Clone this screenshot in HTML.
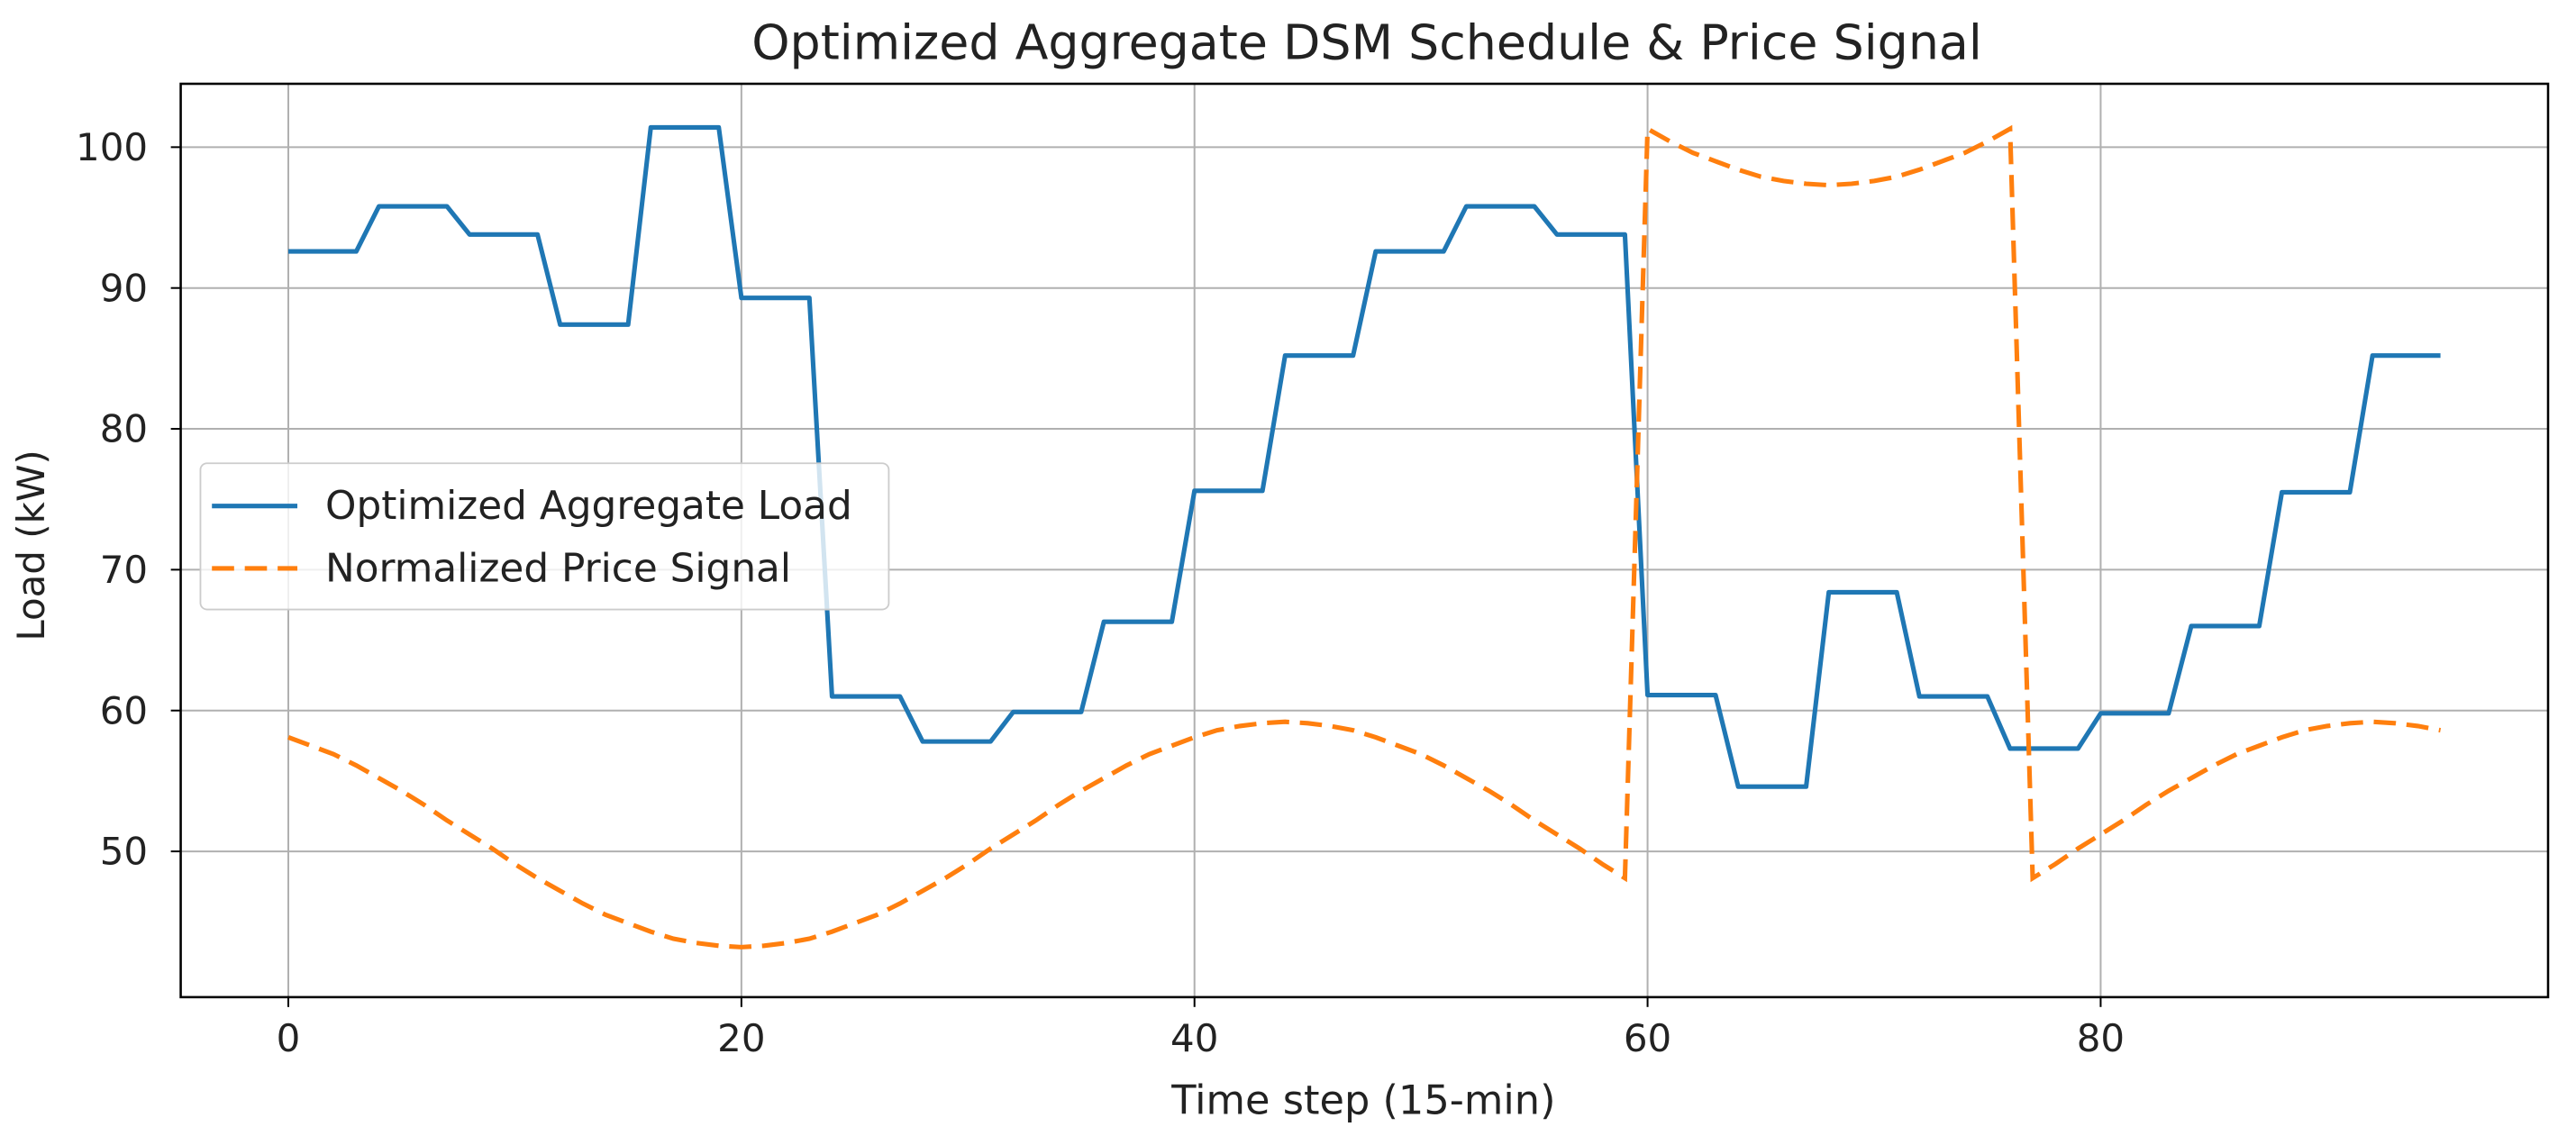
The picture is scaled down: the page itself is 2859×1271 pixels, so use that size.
<!DOCTYPE html>
<html><head><meta charset="utf-8"><style>
html,body{margin:0;padding:0;background:#fff;}
svg{display:block;}
text{font-family:"DejaVu Sans","Liberation Sans",sans-serif;fill:#222;}
</style></head>
<body>
<svg id="chart" width="2859" height="1271" viewBox="0 0 1568 697" preserveAspectRatio="none" xmlns="http://www.w3.org/2000/svg">
<rect x="0" y="0" width="1568" height="697" fill="#fff"/>
<text x="832" y="36" font-size="29.5" text-anchor="middle">Optimized Aggregate DSM Schedule &amp; Price Signal</text>
<g id="grid"></g>
<g id="series"></g>
<rect x="110" y="51" width="1441" height="556" fill="none" stroke="#000" stroke-width="1.4"/>
<g id="ticks"></g>
<text x="830" y="678" font-size="24.5" text-anchor="middle">Time step (15-min)</text>
<text transform="translate(27,332) rotate(-90)" font-size="23" text-anchor="middle">Load (kW)</text>
<g>
<rect x="122" y="282" width="419" height="89" rx="4" fill="#fff" fill-opacity="0.8" stroke="#ccc"/>
<line x1="129" y1="308" x2="181" y2="308" stroke="#1f77b4" stroke-width="2.8"/>
<text x="198" y="316" font-size="24">Optimized Aggregate Load</text>
<line x1="129" y1="346" x2="181" y2="346" stroke="#ff7f0e" stroke-width="2.8" stroke-dasharray="13.5,6.5"/>
<text x="198" y="354" font-size="24">Normalized Price Signal</text>
</g>
</svg>
<script>
const loadLevels = [92.6,95.8,93.8,87.4,101.4,89.3,61.0,57.8,59.9,66.3,75.6,85.2,92.6,95.8,93.8,61.1,54.6,68.4,61.0,57.3,59.8,66.0,75.5,85.2];
const loadValues = [];
loadLevels.forEach(v => { loadValues.push(v, v, v, v); });
const priceValues = [58.1,57.5,56.9,56.1,55.2,54.3,53.3,52.2,51.2,50.2,49.1,48.1,47.2,46.3,45.5,44.9,44.3,43.8,43.5,43.3,43.2,
43.3,43.5,43.8,44.3,44.9,45.5,46.3,47.2,48.1,49.1,50.2,51.2,52.2,53.3,54.3,55.2,56.1,56.9,57.5,58.1,58.6,58.9,59.1,59.2,
59.1,58.9,58.6,58.1,57.5,56.9,56.1,55.2,54.3,53.3,52.2,51.2,50.2,49.1,48.1,
101.3,100.4,99.6,99.0,98.4,97.9,97.6,97.4,97.3,97.4,97.6,97.9,98.4,99.0,99.6,100.4,101.3,
48.1,49.1,50.2,51.2,52.2,53.3,54.3,55.2,56.1,56.9,57.5,58.1,58.6,58.9,59.1,59.2,59.1,58.9,58.6];
const xTicks = [0,20,40,60,80];
const yTicks = [50,60,70,80,90,100];

const NS = "http://www.w3.org/2000/svg";
const X0 = 110, X1 = 1551, Y0 = 51, Y1 = 607;
const xMin = -4.75, xMax = 99.75, yMin = 39.65, yMax = 104.5;
const xs = v => X0 + (v - xMin) / (xMax - xMin) * (X1 - X0);
const ys = v => Y1 - (v - yMin) / (yMax - yMin) * (Y1 - Y0);
function mk(tag, attrs, parent) {
  const el = document.createElementNS(NS, tag);
  for (const k in attrs) el.setAttribute(k, attrs[k]);
  parent.appendChild(el);
  return el;
}
const grid = document.getElementById('grid');
const ticks = document.getElementById('ticks');
const series = document.getElementById('series');
xTicks.forEach(t => {
  const g = mk('line', {x1: xs(t), x2: xs(t), y1: Y0, y2: Y1, stroke: '#b0b0b0', 'stroke-width': 1.1}, grid);
  
  
  const tk = mk('line', {x1: xs(t), x2: xs(t), y1: Y1, y2: Y1 + 6, stroke: '#000', 'stroke-width': 1.1}, ticks);
  
  
  const tx = mk('text', {x: xs(t), y: Y1 + 33, 'font-size': 23, 'text-anchor': 'middle'}, ticks);
  tx.textContent = t;
  
  
});
yTicks.forEach(t => {
  const g = mk('line', {x1: X0, x2: X1, y1: ys(t), y2: ys(t), stroke: '#b0b0b0', 'stroke-width': 1.1}, grid);
  
  
  const tk = mk('line', {x1: X0 - 6, x2: X0, y1: ys(t), y2: ys(t), stroke: '#000', 'stroke-width': 1.1}, ticks);
  
  
  const tx = mk('text', {x: X0 - 20, y: ys(t) + 8, 'font-size': 23, 'text-anchor': 'end'}, ticks);
  tx.textContent = t;
  
  
});
const loadPath = mk('path', {d: loadValues.map((v, i) => (i ? 'L' : 'M') + xs(i).toFixed(2) + ',' + ys(v).toFixed(2)).join(''), fill: 'none', stroke: '#1f77b4', 'stroke-width': 2.8, 'stroke-linejoin': 'round'}, series);


const pricePath = mk('path', {d: priceValues.map((v, i) => (i ? 'L' : 'M') + xs(i).toFixed(2) + ',' + ys(v).toFixed(2)).join(''), fill: 'none', stroke: '#ff7f0e', 'stroke-width': 2.8, 'stroke-dasharray': '13.5,6.5'}, series);


</script>
</body></html>
